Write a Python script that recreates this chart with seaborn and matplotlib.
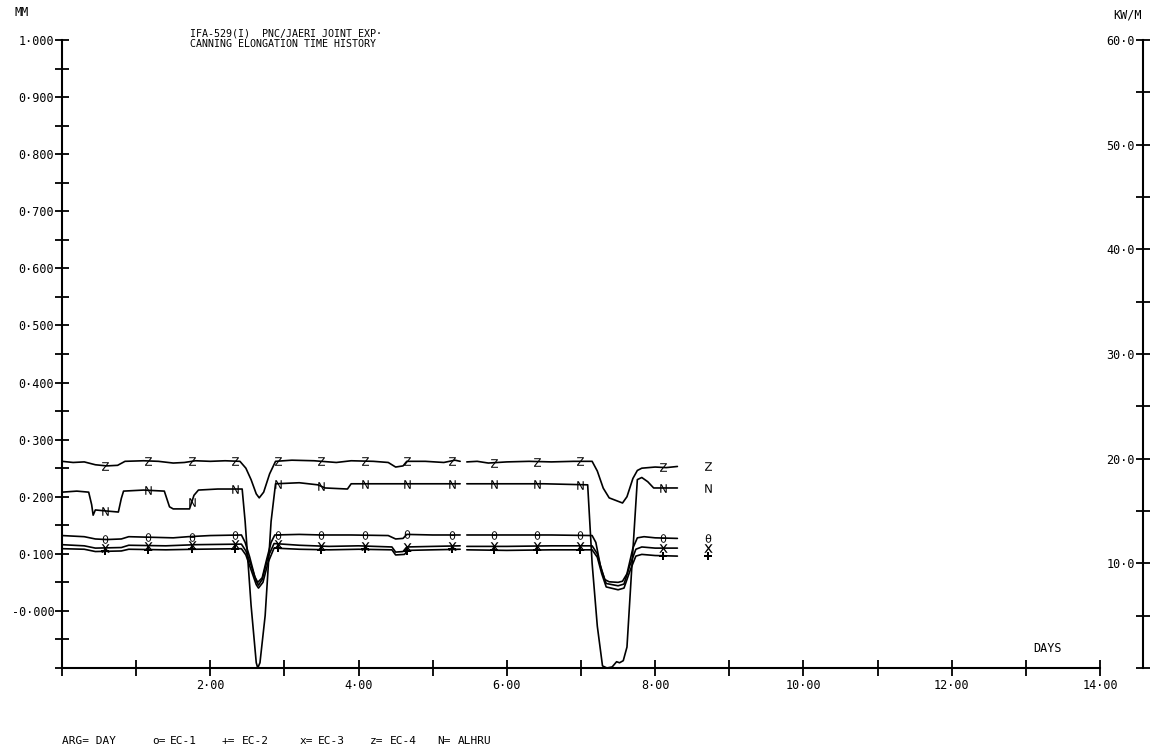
import numpy as np
import pandas as pd
import matplotlib
matplotlib.use("Agg")
import matplotlib.pyplot as plt
import seaborn as sns
from matplotlib.ticker import MultipleLocator

# ---------------- data ----------------
NaN = np.nan
# EC-4 (z) canning elongation, mm
ec4_day = [0.00, 0.15, 0.30, 0.45, 0.60, 0.75, 0.85, 1.10, 1.30, 1.50, 1.65, 1.80, 2.00, 2.20, 2.40,
           2.48, 2.55, 2.62, 2.66, 2.72, 2.80, 2.88, 3.10, 3.40, 3.70, 3.90, 4.20, 4.40, 4.50, 4.60,
           4.65, 4.90, 5.15, 5.30, 5.37, NaN, 5.46, 5.60, 5.75, 6.00, 6.30, 6.60, 6.90, 7.15, 7.22,
           7.30, 7.38, 7.50, 7.56, 7.62, 7.70, 7.76, 7.82, 8.00, 8.15, 8.30]
ec4_mm = [0.262, 0.260, 0.261, 0.256, 0.254, 0.255, 0.262, 0.263, 0.262, 0.259, 0.260, 0.263, 0.262, 0.263, 0.262,
          0.250, 0.230, 0.205, 0.198, 0.208, 0.240, 0.262, 0.264, 0.263, 0.260, 0.263, 0.262, 0.260, 0.252, 0.254,
          0.262, 0.262, 0.260, 0.264, 0.262, NaN, 0.261, 0.262, 0.259, 0.261, 0.262, 0.261, 0.262, 0.262, 0.245,
          0.215, 0.198, 0.192, 0.189, 0.200, 0.232, 0.246, 0.250, 0.252, 0.251, 0.253]

# EC-1 (o), mm
ec1_day = [0.00, 0.30, 0.45, 0.60, 0.80, 0.90, 1.20, 1.50, 1.70, 2.00, 2.42, 2.47, 2.53, 2.60, 2.64,
           2.70, 2.76, 2.82, 2.87, 3.20, 3.50, 3.90, 4.40, 4.50, 4.60, 4.65, 5.00, 5.37, NaN, 5.46,
           6.00, 6.60, 7.15, 7.20, 7.26, 7.32, 7.38, 7.50, 7.56, 7.62, 7.70, 7.76, 7.85, 8.00, 8.30]
ec1_mm = [0.132, 0.130, 0.126, 0.125, 0.126, 0.130, 0.129, 0.128, 0.130, 0.132, 0.133, 0.120, 0.095, 0.060, 0.050,
          0.058, 0.090, 0.120, 0.133, 0.134, 0.133, 0.133, 0.132, 0.126, 0.127, 0.134, 0.133, 0.133, NaN, 0.133,
          0.133, 0.133, 0.132, 0.120, 0.080, 0.055, 0.051, 0.050, 0.052, 0.065, 0.110, 0.128, 0.130, 0.128, 0.127]

# EC-3 (x), mm
ec3_day = [0.00, 0.30, 0.45, 0.80, 0.90, 1.40, 1.80, 2.42, 2.48, 2.55, 2.62, 2.65, 2.70, 2.78, 2.86,
           3.20, 3.60, 4.00, 4.45, 4.50, 4.60, 4.65, 5.00, 5.37, NaN, 5.46, 6.00, 6.60, 7.15, 7.22,
           7.28, 7.34, 7.50, 7.58, 7.66, 7.74, 7.82, 8.00, 8.30]
ec3_mm = [0.116, 0.114, 0.110, 0.111, 0.115, 0.114, 0.116, 0.117, 0.105, 0.080, 0.052, 0.045, 0.055, 0.095, 0.118,
          0.115, 0.113, 0.114, 0.112, 0.103, 0.104, 0.112, 0.113, 0.114, NaN, 0.113, 0.113, 0.114, 0.114, 0.100,
          0.070, 0.048, 0.044, 0.047, 0.080, 0.108, 0.112, 0.110, 0.110]

# EC-2 (+), mm
ec2_day = [0.00, 0.30, 0.45, 0.80, 0.90, 1.40, 1.80, 2.42, 2.48, 2.55, 2.62, 2.65, 2.71, 2.78, 2.86,
           3.20, 3.60, 4.00, 4.45, 4.50, 4.62, 4.66, 5.00, 5.37, NaN, 5.46, 6.00, 6.60, 7.15, 7.22,
           7.28, 7.34, 7.50, 7.58, 7.66, 7.74, 7.82, 8.00, 8.30]
ec2_mm = [0.109, 0.108, 0.104, 0.105, 0.108, 0.107, 0.108, 0.109, 0.098, 0.072, 0.046, 0.040, 0.050, 0.085, 0.110,
          0.108, 0.107, 0.108, 0.107, 0.098, 0.099, 0.106, 0.107, 0.108, NaN, 0.107, 0.106, 0.107, 0.107, 0.094,
          0.065, 0.042, 0.037, 0.040, 0.070, 0.096, 0.099, 0.097, 0.096]

# ALHRU (N), linear heat rate kW/m (right axis)
alhru_day = [0.00, 0.20, 0.36, 0.40, 0.42, 0.45, 0.60, 0.76, 0.80, 0.83, 1.10, 1.38, 1.45, 1.50, 1.72,
             1.78, 1.84, 2.10, 2.43, 2.47, 2.55, 2.62, 2.64, 2.67, 2.74, 2.82, 2.88, 3.20, 3.45, 3.55,
             3.85, 3.90, 4.30, 4.65, 5.00, 5.37, NaN, 5.46, 6.00, 6.50, 7.09, 7.15, 7.22, 7.29, 7.35,
             7.42, 7.48, 7.52, 7.57, 7.62, 7.68, 7.76, 7.82, 7.90, 7.98, 8.30]
alhru_kw = [16.8, 16.9, 16.8, 15.6, 14.6, 15.1, 15.0, 14.9, 16.2, 16.9, 17.0, 16.9, 15.4, 15.2, 15.2,
            16.5, 17.0, 17.1, 17.1, 14.0, 6.0, 0.5, 0.0, 0.5, 5.0, 14.0, 17.6, 17.7, 17.5, 17.2,
            17.1, 17.6, 17.6, 17.6, 17.6, 17.6, NaN, 17.6, 17.6, 17.6, 17.5, 10.0, 4.0, 0.2, 0.0,
            0.1, 0.6, 0.5, 0.7, 2.0, 9.0, 18.0, 18.2, 17.8, 17.2, 17.2]

# days at which the plotter drew its series symbols
marker_days = [0.58, 1.16, 1.75, 2.33, 2.91, 3.50, 4.09, 4.65, 5.26, 5.82, 6.41, 6.99, 8.10]
end_label_day = 8.71

x_ticks = [2, 4, 6, 8, 10, 12, 14]
x_tick_labels = ["2·00", "4·00", "6·00", "8·00", "10·00", "12·00", "14·00"]
left_ticks = [0.0, 0.1, 0.2, 0.3, 0.4, 0.5, 0.6, 0.7, 0.8, 0.9, 1.0]
left_tick_labels = ["-0·000", "0·100", "0·200", "0·300", "0·400", "0·500",
                    "0·600", "0·700", "0·800", "0·900", "1·000"]
right_ticks = [10, 20, 30, 40, 50, 60]
right_tick_labels = ["10·0", "20·0", "30·0", "40·0", "50·0", "60·0"]

legend_items = [("ARG= DAY", 62), ("o=", 152), ("EC-1", 170), ("+=", 222), ("EC-2", 242),
                ("x=", 300), ("EC-3", 318), ("z=", 370), ("EC-4", 390), ("N=", 437), ("ALHRU", 458)]

# ---------------- figure ----------------
sns.set_theme(style="ticks")
FONT = ["DejaVu Sans Mono", "DejaVu Sans"]
plt.rcParams["font.family"] = FONT

W, H = 1150, 754
fig = plt.figure(figsize=(W / 100, H / 100), dpi=100)
fig.patch.set_facecolor("white")
ax = fig.add_axes([62 / W, 1 - 668 / H, (1143 - 62) / W, 628 / H])
ax.set_facecolor("white")
ax2 = ax.twinx()

LW = 1.2
INK = "black"
MS = 38


def frame(day, val, name):
    d = pd.DataFrame({"day": day, "val": val})
    d["seg"] = d["day"].isna().cumsum()
    d = d.dropna().reset_index(drop=True)
    d["series"] = name
    return d


def mark_points(day, val, where):
    d = np.array(day, float)
    v = np.array(val, float)
    ok = ~np.isnan(d)
    return pd.DataFrame({"day": where, "val": np.interp(where, d[ok], v[ok])})


series_left = [
    ("EC-4", ec4_day, ec4_mm, r"$\mathsf{Z}$"),
    ("EC-1", ec1_day, ec1_mm, r"$\mathsf{\theta}$"),
    ("EC-3", ec3_day, ec3_mm, r"$\mathsf{x}$"),
    ("EC-2", ec2_day, ec2_mm, r"$\mathsf{+}$"),
]

for name, dd, vv, mk in series_left:
    df = frame(dd, vv, name)
    sns.lineplot(data=df, x="day", y="val", units="seg", estimator=None, sort=False,
                 color=INK, linewidth=LW, ax=ax, legend=False)
    mp = mark_points(dd, vv, marker_days)
    sns.scatterplot(data=mp, x="day", y="val", marker=mk, s=MS, color=INK,
                    linewidth=0, ax=ax, legend=False)
    ep = mark_points(dd, vv, [end_label_day])
    sns.scatterplot(data=ep, x="day", y="val", marker=mk, s=MS, color=INK,
                    linewidth=0, ax=ax, legend=False)

dfa = frame(alhru_day, alhru_kw, "ALHRU")
sns.lineplot(data=dfa, x="day", y="val", units="seg", estimator=None, sort=False,
             color=INK, linewidth=LW, ax=ax2, legend=False)
mpa = mark_points(alhru_day, alhru_kw, marker_days)
sns.scatterplot(data=mpa, x="day", y="val", marker=r"$\mathsf{N}$", s=MS, color=INK,
                linewidth=0, ax=ax2, legend=False)
epa = mark_points(alhru_day, alhru_kw, [end_label_day])
sns.scatterplot(data=epa, x="day", y="val", marker=r"$\mathsf{N}$", s=MS, color=INK,
                linewidth=0, ax=ax2, legend=False)

# ---------------- axes ----------------
ax.set_xlim(0, 14.58)
ax.set_ylim(-0.1, 1.0)
ax2.set_ylim(0, 60)
for a in (ax, ax2):
    a.set_xlabel("")
    a.set_ylabel("")
    a.grid(False)

for s in ("top", "right"):
    ax.spines[s].set_visible(False)
for s in ("top", "left", "bottom"):
    ax2.spines[s].set_visible(False)
ax.spines["bottom"].set_bounds(0, 14)
for sp in (ax.spines["left"], ax.spines["bottom"], ax2.spines["right"]):
    sp.set_linewidth(1.5)
    sp.set_color(INK)

ax.set_xticks(x_ticks, x_tick_labels)
ax.xaxis.set_minor_locator(MultipleLocator(1))
ax.set_yticks(left_ticks, left_tick_labels)
ax.yaxis.set_minor_locator(MultipleLocator(0.05))
ax2.set_yticks(right_ticks, right_tick_labels)
ax2.yaxis.set_minor_locator(MultipleLocator(5))

ax.tick_params(axis="x", which="both", direction="inout", length=12, width=1.3,
               colors=INK, labelsize=8.5, pad=2)
ax.tick_params(axis="y", which="both", direction="inout", length=10, width=1.3,
               colors=INK, labelsize=8.5, pad=0.5)
ax2.tick_params(axis="y", which="both", direction="inout", length=10, width=1.3,
                colors=INK, labelsize=8.5, pad=-11)
for t in ax2.get_yticklabels():
    t.set_horizontalalignment("right")

# ---------------- texts ----------------
def ftext(x, y, s, **kw):
    kw.setdefault("fontsize", 8.5)
    kw.setdefault("color", INK)
    fig.text(x / W, 1 - y / H, s, **kw)

ftext(22, 13, "MM", ha="center", va="center")
ftext(1128, 15, "KW/M", ha="center", va="center")
ftext(190, 29, "IFA-529(I)  PNC/JAERI JOINT EXP·\nCANNING ELONGATION TIME HISTORY",
      ha="left", va="top", fontsize=7.2, linespacing=0.95)
ftext(1048, 649, "DAYS", ha="center", va="center")
for s, x in legend_items:
    ftext(x, 741, s, ha="left", va="center", fontsize=8)

fig.savefig("out.png", dpi=100, facecolor="white")
